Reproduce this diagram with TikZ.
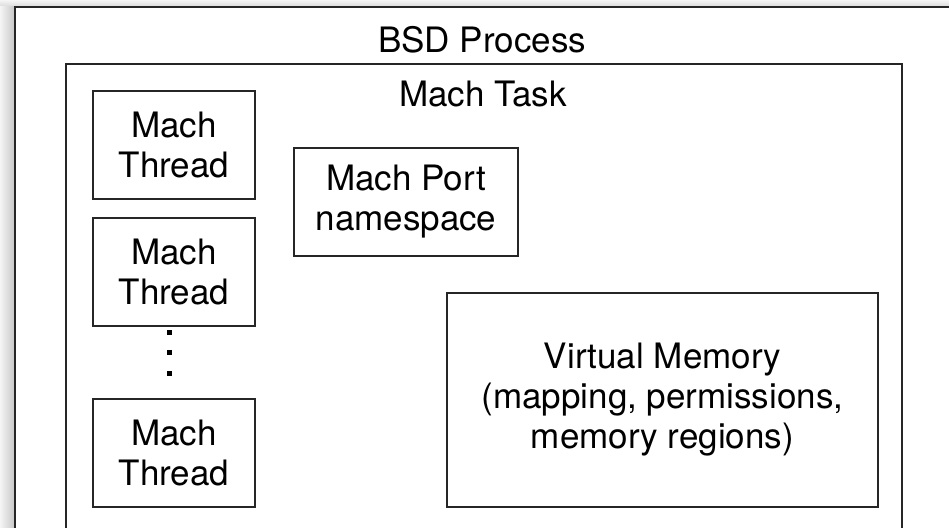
\documentclass[tikz,border=0pt]{standalone}
\usepackage{fontspec}
\setmainfont{TeX Gyre Heros}
\usetikzlibrary{positioning}

\begin{document}
\begin{tikzpicture}[
  x=0.5pt, y=-0.5pt,
  font=\fontsize{17.5}{20}\selectfont,
  frame/.style={draw=black!85, line width=1.4pt},
  box/.style={draw=black!85, line width=1pt, inner sep=0pt, align=center},
  thr/.style={box, minimum width=81pt, minimum height=54pt},
  ttl/.style={anchor=base}
]
\useasboundingbox (0,0) rectangle (949,528);
\clip (0,0) rectangle (949,528);

% window shadow
\shade[top color=gray!8, bottom color=gray!30] (0,0) rectangle (949,7);
\shade[left color=gray!8, right color=gray!45] (0,7) rectangle (15,528);

% process and task frames
\draw[frame] (15,7) rectangle (980,560);
\draw[frame, line width=1.2pt] (66,64) rectangle (902,560);

% titles
\node[ttl] (proc) at (482,53) {BSD Process};
\node[ttl] (task) at (483,107) {Mach Task};

% threads
\node[thr] (th1) at (174,145) {Mach\\Thread};
\node[thr, below=8.5pt of th1] (th2) {Mach\\Thread};
\node[thr] (th3) at (174,453.5) {Mach\\Thread};
\foreach \y in {333,353,374}
  \fill (169,\y) ++(-2.5,-2.5) rectangle ++(5,5);

% port namespace and memory
\node[box, minimum width=112pt, minimum height=54pt] (port) at (406,202) {Mach Port\\namespace};
\node[box, minimum width=215.5pt, minimum height=107pt] (vm) at (662.5,400) {Virtual Memory\\(mapping, permissions,\\memory regions)};

\end{tikzpicture}
\end{document}
